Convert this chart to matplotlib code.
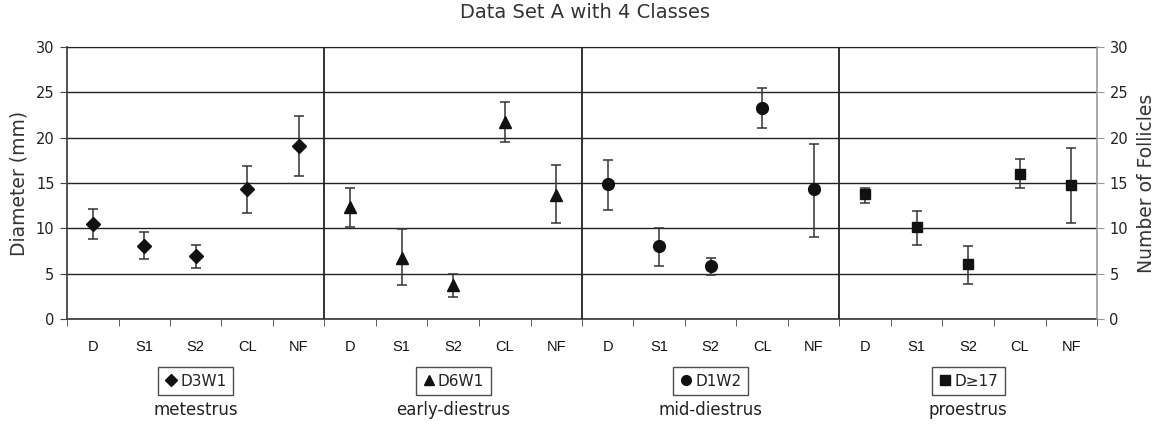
import matplotlib
matplotlib.use("Agg")
import matplotlib.pyplot as plt
import numpy as np

# ---- data ----
categories = ["D", "S1", "S2", "CL", "NF"]
groups = ["D3W1", "D6W1", "D1W2", "D≥17"]
stages = ["metestrus", "early-diestrus", "mid-diestrus", "proestrus"]
markers = ["D", "^", "o", "s"]

means_d3w1 = [10.5, 8.0, 6.9, 14.3, 19.1]
upper_d3w1 = [12.1, 9.6, 8.2, 16.9, 22.4]
lower_d3w1 = [8.8, 6.6, 5.6, 11.7, 15.8]

means_d6w1 = [12.3, 6.7, 3.7, 21.7, 13.7]
upper_d6w1 = [14.5, 9.9, 5.0, 23.9, 17.0]
lower_d6w1 = [10.2, 3.7, 2.4, 19.5, 10.6]

means_d1w2 = [14.9, 8.0, 5.8, 23.3, 14.3]
upper_d1w2 = [17.5, 10.0, 6.7, 25.5, 19.3]
lower_d1w2 = [12.0, 5.8, 4.8, 21.1, 9.0]

means_d17 = [13.8, 10.1, 6.1, 16.0, 14.8]
upper_d17 = [14.5, 11.9, 8.1, 17.7, 18.9]
lower_d17 = [12.8, 8.2, 3.9, 14.4, 10.6]

all_means = [means_d3w1, means_d6w1, means_d1w2, means_d17]
all_upper = [upper_d3w1, upper_d6w1, upper_d1w2, upper_d17]
all_lower = [lower_d3w1, lower_d6w1, lower_d1w2, lower_d17]

yticks = [0, 5, 10, 15, 20, 25, 30]

# ---- figure ----
plt.rcParams['font.family'] = ['DejaVu Sans']
fig = plt.figure(figsize=(11.71, 4.32), dpi=100)
ax = fig.add_axes([67/1171, 1-319/432, (1097-67)/1171, (319-47)/432])

ncat = len(categories)
ngrp = len(groups)
ax.set_xlim(0, ncat*ngrp)
ax.set_ylim(0, 30)

for i in range(ngrp):
    x = np.arange(ncat) + i*ncat + 0.5
    m = np.array(all_means[i])
    lo = m - np.array(all_lower[i])
    hi = np.array(all_upper[i]) - m
    ax.errorbar(x, m, yerr=[lo, hi], fmt=markers[i], color='#111111',
                ecolor='#333333', elinewidth=1.1, capsize=3.3, capthick=1.1,
                markersize=[7.5, 8.5, 8.5, 7.5][i], zorder=4, label=groups[i])
    # legend box for the panel
    h = plt.Line2D([], [], marker=markers[i], color='#111111', linestyle='none',
                   markersize=[6, 7, 7, 6.5][i])
    leg = fig.legend(handles=[h], labels=[groups[i]], loc='center',
                     bbox_to_anchor=(i*ncat + ncat/2, -0.228),
                     bbox_transform=ax.get_xaxis_transform(),
                     frameon=True, fancybox=False, edgecolor='#222222',
                     handlelength=0.8, handletextpad=0.2, borderpad=0.45,
                     fontsize=11, borderaxespad=0)
    leg.get_frame().set_linewidth(1.0)
    for t in leg.get_texts():
        t.set_color('#222222')
    ax.text(i*ncat + ncat/2, -0.335, stages[i], transform=ax.get_xaxis_transform(),
            ha='center', va='center', fontsize=12, color='#222222')
    if i > 0:
        ax.axvline(i*ncat, color='#222222', lw=1.3, zorder=3)

# x ticks
centers = np.arange(ncat*ngrp) + 0.5
ax.set_xticks(centers)
ax.set_xticklabels(categories*ngrp, fontsize=10.5, family='Liberation Sans', color='#111111')
ax.tick_params(axis='x', which='major', length=0, pad=15)
ax.set_xticks(np.arange(ncat*ngrp + 1), minor=True)
ax.tick_params(axis='x', which='minor', length=5, direction='out', color='#444444')

# y axis
ax.set_yticks(yticks)
ax.tick_params(axis='y', length=5, direction='out', color='#444444', labelsize=10.5,
               pad=4, labelcolor='#222222')
ax.yaxis.grid(True, color='#222222', lw=1.0, zorder=1)
ax.set_axisbelow(True)
ax.set_ylabel("Diameter (mm)", fontsize=13.5, labelpad=5, color='#333333')
for s in ['left', 'bottom']:
    ax.spines[s].set_color('#444444')
    ax.spines[s].set_linewidth(1.3)
ax.spines['top'].set_color('#222222')
ax.spines['right'].set_visible(False)

ax2 = ax.twinx()
ax2.set_ylim(0, 30)
ax2.set_yticks(yticks)
ax2.tick_params(axis='y', length=5, direction='out', color='#999999', labelsize=10.5,
                pad=4, labelcolor='#222222')
ax2.spines['right'].set_color('#999999')
ax2.spines['right'].set_linewidth(1.2)
for s in ['left', 'top', 'bottom']:
    ax2.spines[s].set_visible(False)
ax2.set_ylabel("Number of Follicles", fontsize=13.5, labelpad=6, color='#333333')

fig.text(0.5, 1-13/432, "Data Set A with 4 Classes", ha='center', va='center',
         fontsize=14, color='#333333')

fig.savefig("out.png", dpi=100)
